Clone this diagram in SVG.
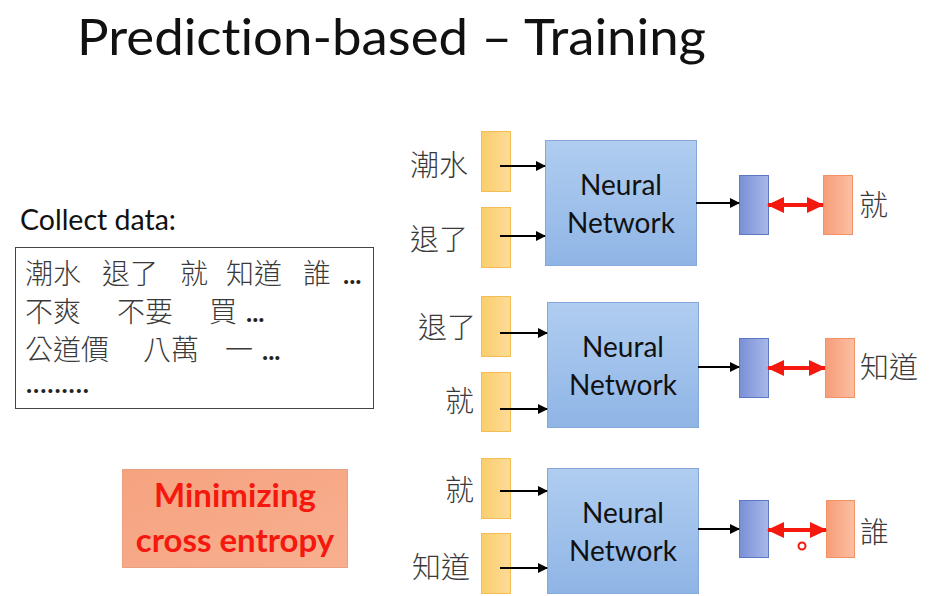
<svg xmlns="http://www.w3.org/2000/svg" width="937" height="596" viewBox="0 0 937 596">
<defs>
<linearGradient id="gY" x1="0" y1="0" x2="1" y2="0"><stop offset="0" stop-color="#fbcd6c"/><stop offset="1" stop-color="#fddc98"/></linearGradient>
<linearGradient id="gNN" x1="0" y1="0" x2="0" y2="1"><stop offset="0" stop-color="#b0cdf0"/><stop offset="1" stop-color="#8fb5e6"/></linearGradient>
<linearGradient id="gB" x1="0" y1="0" x2="1" y2="0"><stop offset="0" stop-color="#7a90d6"/><stop offset="1" stop-color="#a8b8e8"/></linearGradient>
<linearGradient id="gO" x1="0" y1="0" x2="1" y2="0"><stop offset="0" stop-color="#f79d78"/><stop offset="1" stop-color="#fbbfa3"/></linearGradient>
<linearGradient id="gM" x1="0" y1="0" x2="1" y2="1"><stop offset="0" stop-color="#f6a27f"/><stop offset="1" stop-color="#f7b08f"/></linearGradient>
<marker id="ah" markerWidth="10" markerHeight="10" refX="9" refY="5" orient="auto" markerUnits="userSpaceOnUse"><path d="M0,0 L10,5 L0,10 z" fill="#000"/></marker>
<marker id="rh" markerWidth="17" markerHeight="16" refX="16" refY="8" orient="auto-start-reverse" markerUnits="userSpaceOnUse"><path d="M0,0 L17,8 L0,16 z" fill="#f5180f"/></marker>
<style>
text{font-variant-ligatures:none}
.y{fill:url(#gY);stroke:#f2bd52;stroke-width:1}
.nn{fill:url(#gNN);stroke:#84a8dc;stroke-width:1}
.b{fill:url(#gB);stroke:#5d77c2;stroke-width:1}
.o{fill:url(#gO);stroke:#f39266;stroke-width:1}
.cjk{font-family:"Noto Sans CJK TC","Noto Sans CJK SC",sans-serif;fill:#3a3a3a;font-weight:300}
.nt{font-family:Lato,"Open Sans",sans-serif;font-size:28px;fill:#111;text-anchor:middle}
.dots{font-family:Lato,sans-serif;font-size:26px;font-weight:bold;fill:#222}
.ar{stroke:#000;stroke-width:2;fill:none;marker-end:url(#ah)}
.rd{stroke:#f5180f;stroke-width:4;fill:none;marker-start:url(#rh);marker-end:url(#rh)}
</style>
</defs>
<rect width="937" height="596" fill="#fff"/>
<text x="77" y="55" font-family="Lato,'Open Sans',sans-serif" font-size="50" fill="#111" textLength="629" lengthAdjust="spacingAndGlyphs">Prediction-based – Training</text>

<g id="collect">
<text x="20" y="230" font-family="Lato,'Open Sans',sans-serif" font-size="28.5" fill="#111">Collect data:</text>
<rect x="15.5" y="247.5" width="358" height="161" fill="#fff" stroke="#444" stroke-width="1"/>
<g class="cjk" font-size="28">
<text y="284"><tspan x="25">潮水</tspan><tspan x="102">退了</tspan><tspan x="180">就</tspan><tspan x="226">知道</tspan><tspan x="303">誰</tspan></text>
<text y="322"><tspan x="25">不爽</tspan><tspan x="117">不要</tspan><tspan x="209">買</tspan></text>
<text y="360"><tspan x="25">公道價</tspan><tspan x="143">八萬</tspan><tspan x="225">一</tspan></text>
</g>
<text class="dots" x="343" y="284">...</text>
<text class="dots" x="246" y="322">...</text>
<text class="dots" x="262" y="360">...</text>
<text class="dots" x="26" y="393" textLength="63" lengthAdjust="spacing">.........</text>
</g>

<g id="minimize">
<rect x="122.5" y="469.5" width="225" height="98" fill="url(#gM)" stroke="#e8a080" stroke-width="1"/>
<text x="235" y="507" font-family="Lato,'Open Sans',sans-serif" font-weight="bold" font-size="33" fill="#f5180f" text-anchor="middle">Minimizing</text>
<text x="235" y="552" font-family="Lato,'Open Sans',sans-serif" font-weight="bold" font-size="33" fill="#f5180f" text-anchor="middle">cross entropy</text>
</g>

<!-- Group 1 -->
<g id="in1a"><rect class="y" x="481.5" y="131.5" width="29" height="60"/><text class="cjk" font-size="29" x="410" y="176">潮水</text></g>
<g id="in1b"><rect class="y" x="481.5" y="207.5" width="29" height="60"/><text class="cjk" font-size="29" x="410" y="250">退了</text></g>
<g id="nn1"><rect class="nn" x="545.5" y="140.5" width="151" height="125"/><text class="nt" x="621" y="195">Neural</text><text class="nt" x="621" y="233">Network</text></g>
<g id="out1"><rect class="b" x="739.5" y="175.5" width="29" height="59"/></g>
<g id="tgt1"><rect class="o" x="823.5" y="175.5" width="29" height="59"/><text class="cjk" font-size="29" x="859" y="216">就</text></g>

<!-- Group 2 -->
<g id="in2a"><rect class="y" x="481.5" y="296.5" width="29" height="60"/><text class="cjk" font-size="29" x="418" y="338">退了</text></g>
<g id="in2b"><rect class="y" x="481.5" y="372.5" width="29" height="59"/><text class="cjk" font-size="29" x="445" y="412">就</text></g>
<g id="nn2"><rect class="nn" x="547.5" y="302.5" width="151" height="125"/><text class="nt" x="623" y="357">Neural</text><text class="nt" x="623" y="395">Network</text></g>
<g id="out2"><rect class="b" x="739.5" y="338.5" width="29" height="59"/></g>
<g id="tgt2"><rect class="o" x="825.5" y="338.5" width="29" height="59"/><text class="cjk" font-size="29" x="860" y="378">知道</text></g>

<!-- Group 3 -->
<g id="in3a"><rect class="y" x="481.5" y="458.5" width="29" height="60"/><text class="cjk" font-size="29" x="445" y="501">就</text></g>
<g id="in3b"><rect class="y" x="481.5" y="533.5" width="29" height="60"/><text class="cjk" font-size="29" x="412" y="578">知道</text></g>
<g id="nn3"><rect class="nn" x="547.5" y="468.5" width="151" height="125"/><text class="nt" x="623" y="523">Neural</text><text class="nt" x="623" y="561">Network</text></g>
<g id="out3"><rect class="b" x="739.5" y="500.5" width="29" height="57"/></g>
<g id="tgt3"><rect class="o" x="826.5" y="500.5" width="28" height="57"/><text class="cjk" font-size="29" x="860" y="543">誰</text></g>

<g id="connectors">
<line class="ar" x1="500" y1="166" x2="545" y2="166"/>
<line class="ar" x1="500" y1="236" x2="545" y2="236"/>
<line class="ar" x1="696" y1="203" x2="739" y2="203"/>
<line class="rd" x1="768" y1="205" x2="823" y2="205"/>
<line class="ar" x1="500" y1="333" x2="547" y2="333"/>
<line class="ar" x1="500" y1="409" x2="547" y2="409"/>
<line class="ar" x1="698" y1="367" x2="739" y2="367"/>
<line class="rd" x1="768" y1="368" x2="825" y2="368"/>
<line class="ar" x1="500" y1="491" x2="547" y2="491"/>
<line class="ar" x1="500" y1="568" x2="547" y2="568"/>
<line class="ar" x1="698" y1="529" x2="739" y2="529"/>
<line class="rd" x1="768" y1="530" x2="826" y2="530"/>
</g>
<circle cx="802" cy="546" r="3.5" fill="none" stroke="#f5180f" stroke-width="2"/>
</svg>
